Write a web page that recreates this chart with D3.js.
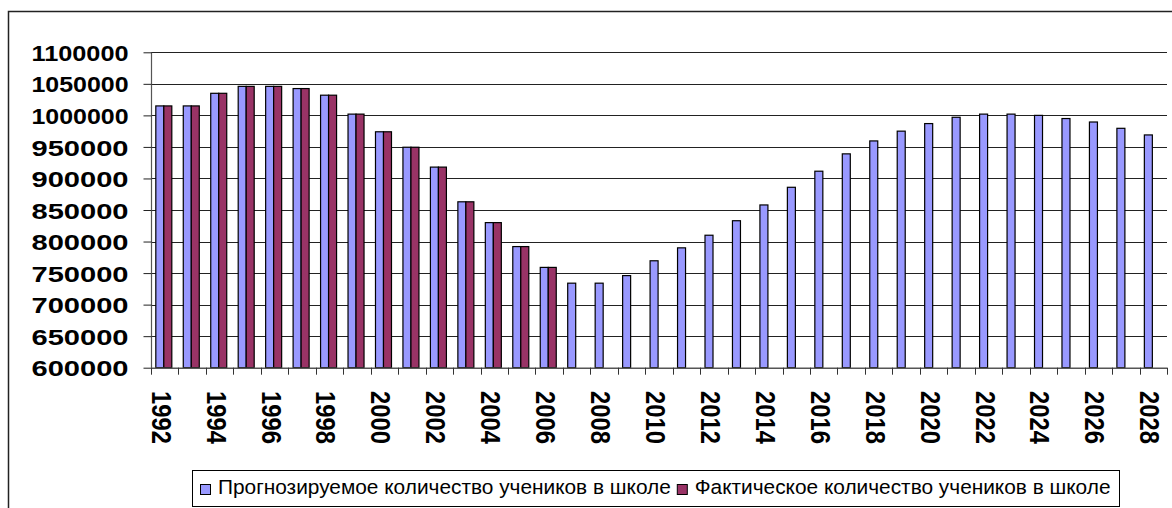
<!DOCTYPE html>
<html>
<head>
<meta charset="utf-8">
<script src="https://cdn.jsdelivr.net/npm/d3@7"></script>
<style>
  html, body { margin: 0; padding: 0; background: #fff; }
  svg { display: block; font-family: Arial, "Liberation Sans", sans-serif; }
</style>
</head>
<body>
<svg id="chart" width="1172" height="508"></svg>
<script>
const years = [1992,1993,1994,1995,1996,1997,1998,1999,2000,2001,2002,2003,2004,2005,2006,2007,2008,2009,2010,2011,2012,2013,2014,2015,2016,2017,2018,2019,2020,2021,2022,2023,2024,2025,2026,2027,2028];
const forecast = [1015000,1015000,1035000,1046000,1046000,1042500,1032000,1002000,974000,949500,918000,863000,830000,792000,759000,734000,734000,746000,769500,790000,810000,833000,858000,886000,911500,939000,959500,975000,987000,997000,1002000,1002000,1000000,995000,989500,979500,969000];
const actual = [1015000,1015000,1035000,1046000,1046000,1042500,1032000,1002000,974000,949500,918000,863000,830000,792000,759000,null,null,null,null,null,null,null,null,null,null,null,null,null,null,null,null,null,null,null,null,null,null];
const yTicks = [600000,650000,700000,750000,800000,850000,900000,950000,1000000,1050000,1100000];
const seriesNames = ["Прогнозируемое количество учеников в школе", "Фактическое количество учеников в школе"];
const seriesColors = ["#9999FF", "#993366"];

const svg = d3.select("#chart");
const plot = { left: 151, right: 1167, top: 52.3, bottom: 367.7 };

const x = d3.scaleBand().domain(years).range([plot.left, plot.right]).padding(0);
const inner = d3.scaleBand().domain([0, 1]).range([0, x.bandwidth()])
  .paddingInner(0).paddingOuter(0.716).align(0.42);
const y = d3.scaleLinear().domain([600000, 1100000]).range([plot.bottom, plot.top]);

// outer chart border (left + top)
svg.append("path")
  .attr("d", `M8.5,508 L8.5,11.5 L1172,11.5`)
  .attr("fill", "none").attr("stroke", "#222").attr("stroke-width", 1.5);

// gridlines
svg.append("g").selectAll("line").data(yTicks).join("line")
  .attr("x1", plot.left).attr("x2", plot.right)
  .attr("y1", d => Math.round(y(d)) + 0.5).attr("y2", d => Math.round(y(d)) + 0.5)
  .attr("stroke", "#222").attr("stroke-width", 1);

// bars
const rows = years.map((yr, i) => ({ yr, vals: [forecast[i], actual[i]] }));
const g = svg.append("g");
rows.forEach(r => {
  r.vals.forEach((v, k) => {
    if (v == null) return;
    g.append("rect")
      .attr("x", x(r.yr) + inner(k))
      .attr("y", y(v))
      .attr("width", inner.bandwidth())
      .attr("height", y(600000) - y(v))
      .attr("fill", seriesColors[k])
      .attr("stroke", "#000").attr("stroke-width", 1.2);
  });
});

// y axis
const yAxis = svg.append("g").attr("transform", `translate(${plot.left + 0.5},0)`)
  .call(d3.axisLeft(y).tickValues(yTicks).tickSize(8).tickFormat(d3.format("d")).tickPadding(14));
yAxis.select(".domain").attr("stroke", "#555").attr("stroke-width", 1.2).attr("d", `M0,${plot.top}V${plot.bottom}`);
yAxis.selectAll(".tick line").attr("stroke", "#222");
yAxis.selectAll(".tick text")
  .attr("font-size", 22.5).attr("font-weight", "bold").attr("fill", "#000")
  .attr("font-family", "Arial, 'Liberation Sans', sans-serif")
  .attr("dy", "0.36em")
  .attr("textLength", 97).attr("lengthAdjust", "spacingAndGlyphs")
  .attr("x", -23);

// x axis line & ticks at category boundaries
const xg = svg.append("g");
xg.append("line").attr("x1", plot.left).attr("x2", plot.right)
  .attr("y1", plot.bottom + 0.5).attr("y2", plot.bottom + 0.5)
  .attr("stroke", "#555").attr("stroke-width", 1.5);
const boundaries = years.map(yr => x(yr)).concat([plot.right]);
xg.selectAll("line.tk").data(boundaries).join("line").attr("class", "tk")
  .attr("x1", d => Math.round(d) + 0.5).attr("x2", d => Math.round(d) + 0.5)
  .attr("y1", plot.bottom).attr("y2", plot.bottom + 7)
  .attr("stroke", "#333").attr("stroke-width", 1);

// x labels (every other year), rotated 90° clockwise
xg.selectAll("text").data(years.filter((d, i) => i % 2 === 0)).join("text")
  .attr("transform", d => `translate(${x(d) + x.bandwidth() / 2 - 13},${391})rotate(90)`)
  .attr("font-size", 27).attr("font-weight", "bold").attr("fill", "#000")
  .attr("textLength", 53).attr("lengthAdjust", "spacingAndGlyphs")
  .text(d => d);

// legend
const lg = svg.append("g");
lg.append("rect").attr("x", 192.5).attr("y", 470.5).attr("width", 927).attr("height", 36)
  .attr("fill", "#fff").attr("stroke", "#000").attr("stroke-width", 1);
const texts = seriesNames.map(name => lg.append("text").attr("y", 494)
  .attr("font-size", 20.5).attr("fill", "#000").text(name));
const widths = texts.map(t => t.node().getComputedTextLength());
const startX = 218, endX = 1110.5, markerGap = 6, markerW = 11, markerToText = 7;
const k = (endX - startX - markerGap - markerW - markerToText) / d3.sum(widths);
let lx = 200;
seriesNames.forEach((name, i) => {
  lg.append("rect").attr("x", lx + 0.5).attr("y", 484.5).attr("width", 10).attr("height", 10)
    .attr("fill", seriesColors[i]).attr("stroke", "#000").attr("stroke-width", 1);
  const w = widths[i] * k;
  texts[i].attr("x", lx + 18).attr("textLength", w).attr("lengthAdjust", "spacingAndGlyphs");
  lx = lx + 18 + w + markerGap;
});
</script>
</body>
</html>
